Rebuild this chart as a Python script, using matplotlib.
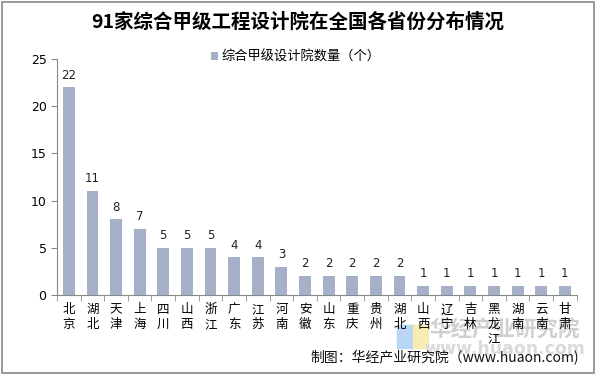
import matplotlib.pyplot as plt
from matplotlib.patches import Rectangle

plt.rcParams['font.family'] = ['Noto Sans CJK SC', 'DejaVu Sans']

# 数据
provinces = ["北京", "湖北", "天津", "上海", "四川", "山西", "浙江", "广东", "江苏", "河南", "安徽",
             "山东", "重庆", "贵州", "湖北", "山西", "辽宁", "吉林", "黑龙江", "湖南", "云南", "甘肃"]
counts = [22, 11, 8, 7, 5, 5, 5, 4, 4, 3, 2, 2, 2, 2, 2, 1, 1, 1, 1, 1, 1, 1]
y_ticks = [0, 5, 10, 15, 20, 25]

fig = plt.figure(figsize=(5.96, 3.75), dpi=100)
ax = fig.add_axes([0.0956, 0.2133, 0.872, 0.6294])
ax.patch.set_alpha(0)

bar_color = "#a6b1c9"
x = list(range(len(provinces)))
ax.bar(x, counts, width=0.5, color=bar_color, label="综合甲级设计院数量（个）")
for xi, v in zip(x, counts):
    ax.text(xi, v + 0.6, str(v), ha="center", va="bottom", fontsize=8.5, color="#222222",
            family="DejaVu Sans")

ax.set_xlim(-0.5, len(provinces) - 0.5)
ax.set_ylim(0, 25)
ax.set_yticks(y_ticks)
ax.set_yticklabels([str(t) for t in y_ticks], fontsize=9, family="DejaVu Sans")
ax.set_xticks(x)
ax.set_xticklabels(["\n".join(p) for p in provinces], fontsize=9, va="top", linespacing=1.15)
ax.tick_params(axis="x", length=0, pad=6)
ax.set_xticks([i - 0.5 for i in range(len(provinces) + 1)], minor=True)
ax.tick_params(axis="x", which="minor", length=4, color="#888888", direction="out")
ax.tick_params(axis="y", length=4, color="#888888", direction="out")

for s in ["top", "right"]:
    ax.spines[s].set_visible(False)
ax.spines["left"].set_color("#888888")
ax.spines["bottom"].set_color("#888888")

fig.text(0.5, 0.94, "91家综合甲级工程设计院在全国各省份分布情况", ha="center", va="center",
         fontsize=14, fontweight="bold")
ax.legend(loc="center", bbox_to_anchor=(0.46, 1.008), frameon=False, fontsize=9.5,
          handlelength=0.5, handleheight=0.5, handletextpad=0.3)

# 水印
fig.text(0.847, 0.12, "华经产业研究院", fontsize=15.5, color="#cfcfcf", ha="center", va="center",
         fontweight="bold", zorder=-2)
fig.text(0.847, 0.068, "www.huaon.com", fontsize=12.5, color="#dadada", ha="center", va="center",
         fontweight="bold", family="DejaVu Sans", zorder=-2)
fig.patches.append(Rectangle((0.666, 0.072), 0.027, 0.061, transform=fig.transFigure,
                             color="#b9d6f5", zorder=-2))
fig.patches.append(Rectangle((0.693, 0.072), 0.025, 0.061, transform=fig.transFigure,
                             color="#f7ecb3", zorder=-2))
fig.text(0.972, 0.045, "制图：华经产业研究院（www.huaon.com)", fontsize=10, ha="right", va="center",
         color="#111111")

# 外框
fig.patches.append(Rectangle((0.003, 0.005), 0.994, 0.99, transform=fig.transFigure,
                             fill=False, edgecolor="#888888", linewidth=1.2))

fig.savefig("out.png", dpi=100)
